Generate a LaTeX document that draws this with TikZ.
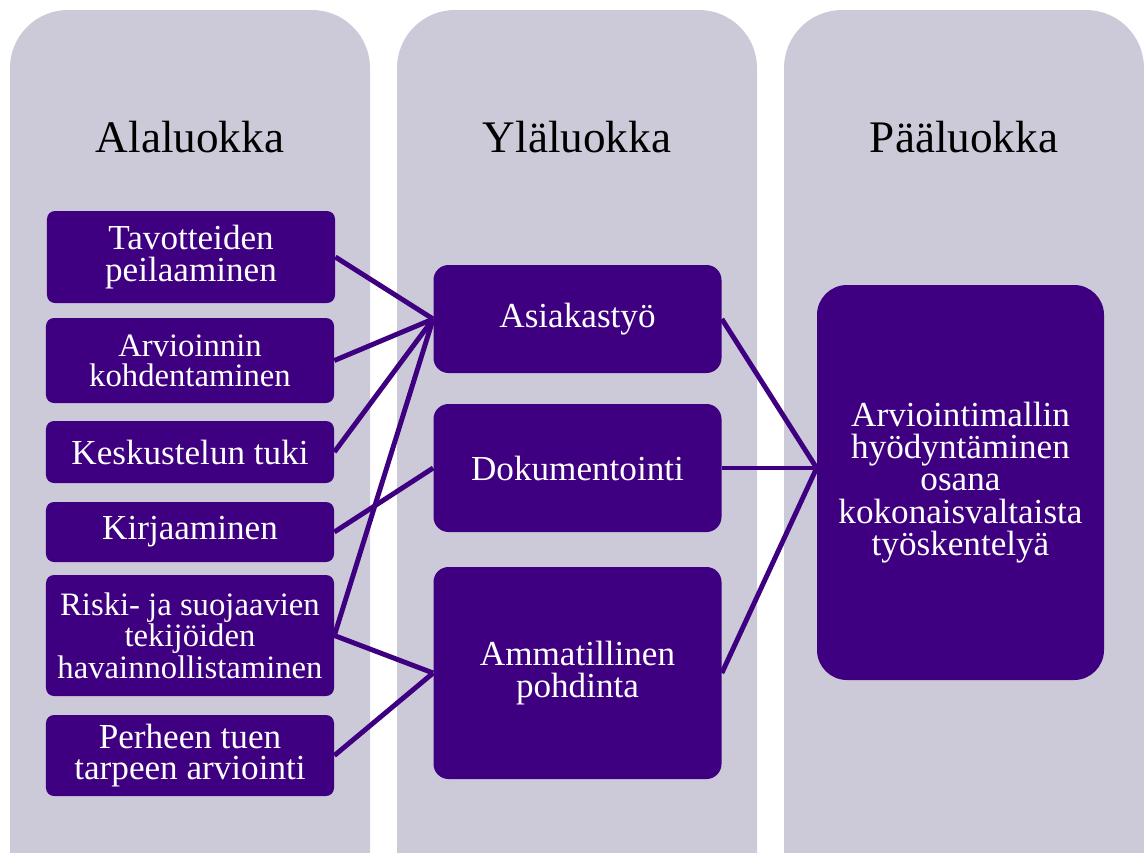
\documentclass[tikz,border=0pt]{standalone}
\usepackage{fontspec}
\setmainfont{Liberation Serif}
\definecolor{luokka}{RGB}{204,202,217}
\definecolor{violetti}{RGB}{62,0,128}
\begin{document}
\begin{tikzpicture}[x=0.2mm,y=-0.2mm,
	laatikko/.style={fill=violetti,text=white,rounded corners=1.6mm,inner sep=0pt,align=center,minimum width=5.76cm,font=\fontsize{20}{18}\selectfont},
	yhteys/.style={violetti,line width=2.8pt}]
	\useasboundingbox (0,0) rectangle (1144,852);
	%columns
	\begin{scope}
	\clip (0,0) rectangle (1144,852);
	\foreach \x/\t/\n in {10/Alaluokka/ala,397/Yläluokka/yla,784/Pääluokka/paa}{
		\fill[luokka,rounded corners=11.6mm] (\x,10) rectangle ++(360,950);
		\node[anchor=base,font=\fontsize{25.7}{30}\selectfont] (\n) at (\x+180,152) {\t};
	}
	\end{scope}
	%left boxes
	\node[laatikko,minimum height=1.84cm] (tavo) at (191,257) {Tavotteiden\\peilaaminen};
	\node[laatikko,minimum height=1.7cm,font=\fontsize{18.6}{17}\selectfont] (kohd) at (190,360.5) {Arvioinnin\\kohdentaminen};
	\node[laatikko,minimum height=1.24cm] (kesk) at (190,452) {Keskustelun tuki};
	\node[laatikko,minimum height=1.2cm] (kirj) at (190,532) {Kirjaaminen};
	\node[laatikko,minimum height=2.42cm,font=\fontsize{18.6}{16.4}\selectfont] (riski) at (190,635.5) {Riski- ja suojaavien\\tekijöiden\\havainnollistaminen};
	\node[laatikko,minimum height=1.62cm] (perhe) at (190,755.5) {Perheen tuen\\tarpeen arviointi};
	%middle
	\node[laatikko,rounded corners=3mm,minimum height=2.16cm] (asia) at (577.5,319) {Asiakastyö};
	\node[laatikko,rounded corners=3mm,minimum height=2.56cm] (doku) at (577.5,468) {Dokumentointi};
	\node[laatikko,rounded corners=3mm,minimum height=4.24cm] (amma) at (577.5,673) {Ammatillinen\\pohdinta};
	%right
	\node[laatikko,rounded corners=6mm,minimum width=5.74cm,minimum height=7.9cm,font=\fontsize{20}{18.4}\selectfont] (arvi) at (960.5,482.5) {Arviointimallin\\hyödyntäminen\\osana\\kokonaisvaltaista\\työskentelyä};
	\coordinate (keskio) at (arvi.west |- doku.east);
	%connectors
	\foreach \a in {tavo,kohd,kesk,riski} \draw[yhteys] (\a.east) -- (asia.west);
	\draw[yhteys] (kirj.east) -- (doku.west);
	\foreach \a in {riski,perhe} \draw[yhteys] (\a.east) -- (amma.west);
	\foreach \a in {asia,doku,amma} \draw[yhteys] (\a.east) -- (keskio);
\end{tikzpicture}
\end{document}
